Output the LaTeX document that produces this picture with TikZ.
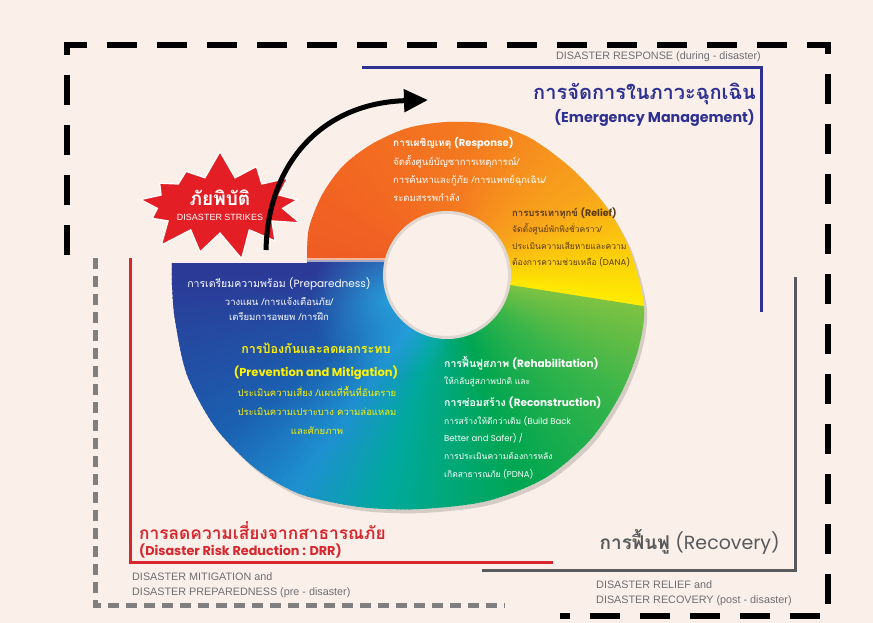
\documentclass[tikz,border=0pt]{standalone}
\usepackage{fontspec}
\setmainfont{Liberation Sans}
\newfontfamily\thai[Script=Thai]{Loma}
\newfontfamily\lat{Poppins}
\usetikzlibrary{shapes.symbols,arrows.meta,fadings}
\definecolor{bg}{HTML}{FBF0E9}
\definecolor{navy}{HTML}{2E3192}
\definecolor{drrred}{HTML}{D7262E}
\definecolor{recgrey}{HTML}{58595B}
\definecolor{lblgrey}{HTML}{6D6E71}
\definecolor{dashgrey}{HTML}{7F7F7F}
\definecolor{burst}{HTML}{E31E24}
\definecolor{ytext}{HTML}{FFF200}
\definecolor{btext}{HTML}{5A3A12}
\definecolor{c0}{HTML}{EE5A24}
\definecolor{c1}{HTML}{F26522}
\definecolor{c2}{HTML}{F47A20}
\definecolor{c3}{HTML}{F8A51B}
\definecolor{c4}{HTML}{FFEC00}
\definecolor{c5}{HTML}{7DC242}
\definecolor{c6}{HTML}{39B54A}
\definecolor{c7}{HTML}{00A651}
\definecolor{c8}{HTML}{00A99D}
\definecolor{c9}{HTML}{1E90D0}
\definecolor{c10}{HTML}{1B5FB0}
\definecolor{c11}{HTML}{2B3A96}
\definecolor{glow}{HTML}{29ABE2}
\tikzfading[name=fuzzyglow, inner color=transparent!0, outer color=transparent!100]
\newcommand\spiralpath{plot[smooth] coordinates {(307,258) (309,228) (322,195) (343,166) (372,144) (408,128) (447,122) (490,124) (530,138) (571,168) (605,205) (630,250) (644,306) (638,350) (620,395) (590,440) (545,478) (487,501) (420,509) (360,507) (300,494) (255,468) (215,427) (187,375) (175,320) (172,285) (172,263)} -- (307,263) -- cycle}
\begin{document}
\begin{tikzpicture}[x=1pt,y=-1pt,
  lbl/.style={inner sep=0pt, text=lblgrey, anchor=base west, font=\fontsize{10.8}{12}\selectfont},
  wt/.style={inner sep=0pt, text=white, anchor=base west, font=\fontsize{9.5}{11}\selectfont},
  bigdash/.style={line width=5.5pt, dash pattern=on 30pt off 20pt},
  smalldash/.style={line width=5pt, dashgrey, dash pattern=on 11pt off 7pt}]
\fill[bg] (0,0) rectangle (873,623);
\useasboundingbox (0,0) rectangle (873,623);

% frames
\draw[bigdash] (67,255) -- (67,45) -- (828,45) -- (828,616) -- (560,616);
\draw[smalldash] (95,258) -- (95,605) -- (505,605);
\draw[navy, line width=3pt] (362,68) -- (761,68) -- (761,312);
\draw[drrred, line width=3pt] (130,258) -- (130,562) -- (553,562);
\draw[recgrey, line width=3pt] (795,277) -- (795,570) -- (482,570);

% wheel shadow
\fill[black, opacity=.15, shift={(3,4)}] \spiralpath;
% wheel
\begin{scope}
\clip \spiralpath;
\foreach \ta/\tb/\ca/\cb in {0/40/c0/c1, 40/100/c1/c2, 100/150/c2/c3, 150/189/c3/c4, 189/215/c5/c6, 215/250/c6/c7, 250/285/c7/c8, 285/305/c8/c9, 305/325/c9/c10, 325/360/c10/c11}{
  \pgfmathtruncatemacro\n{\tb-\ta-1}
  \foreach \k in {0,...,\n}{
    \pgfmathsetmacro\p{100*\k/(\tb-\ta)}
    \pgfmathsetmacro\tt{\ta+\k}
    \colorlet{sc}{\cb!\p!\ca}
    \fill[sc] (447,275) -- ({447-330*cos(\tt)},{275-330*sin(\tt)}) -- ({447-330*cos(\tt+1.4)},{275-330*sin(\tt+1.4)}) -- cycle;
  }
}
\fill[c11] (150,259.5) rectangle (447,276);
\begin{scope}
\clip (150,262) rectangle (445,520);
\fill[glow, opacity=.85, path fading=fuzzyglow] (390,300) circle (80);
\end{scope}
\fill[bg, opacity=.6] (300,258) rectangle (392,262);
\end{scope}
% hole
\fill[bg] (447,275) circle (64);
\draw[black, opacity=.10, line width=3pt] (447,275) circle (62.5);

% emergency management
\node[lbl, anchor=base east] (resp) at (761,60) {DISASTER RESPONSE (during - disaster)};
\node[inner sep=0pt, anchor=base east, text=navy, font=\thai\bfseries\fontsize{20}{22}\selectfont] (em) at (756,100) {การจัดการในภาวะฉุกเฉิน};
\node[inner sep=0pt, anchor=base east, text=navy, font=\lat\bfseries\fontsize{14.3}{16}\selectfont] (eme) at (755,123) {(Emergency Management)};

% response block
\node[wt, font=\bfseries\fontsize{10}{11}\selectfont] (r0) at (393,147) {{\thai การเผชิญเหตุ} {\lat (Response)}};
\foreach \s [count=\i] in {จัดตั้งศูนย์บัญชาการเหตุการณ์/, การค้นหาและกู้ภัย /การแพทย์ฉุกเฉิน/, ระดมสรรพกำลัง}
  \node[wt, font=\thai\fontsize{9.5}{11}\selectfont] (r\i) at (393,147+18*\i) {\s};

% relief block
\node[wt, text=btext, font=\bfseries\fontsize{9.5}{11}\selectfont] (l0) at (512,216) {{\thai การบรรเทาทุกข์} {\lat (Relief)}};
\foreach \s [count=\i] in {จัดตั้งศูนย์พักพิงชั่วคราว/, ประเมินความเสียหายและความ}
  \node[wt, text=btext, font=\thai\fontsize{8.5}{10}\selectfont] (l\i) at (512,216+16.5*\i) {\s};
\node[wt, text=btext, font=\fontsize{8.5}{10}\selectfont] (l3) at (512,265.5) {{\thai ต้องการความช่วยเหลือ} {\lat (DANA)}};

% preparedness block
\node[wt, anchor=base, font=\fontsize{10.5}{12}\selectfont] (p0) at (279,287) {{\thai การเตรียมความพร้อม} {\lat (Preparedness)}};
\node[wt, anchor=base, font=\thai\fontsize{9.5}{11}\selectfont] (p1) at (279,305) {วางแผน /การแจ้งเตือนภัย/};
\node[wt, anchor=base, font=\thai\fontsize{9.5}{11}\selectfont] (p2) at (279,320) {เตรียมการอพยพ /การฝึก};

% prevention block
\node[wt, anchor=base, text=ytext, font=\thai\bfseries\fontsize{12.5}{14}\selectfont] (m0) at (316,353) {การป้องกันและลดผลกระทบ};
\node[wt, anchor=base, text=ytext, font=\lat\bfseries\fontsize{11.5}{13}\selectfont] (m1) at (316,376) {(Prevention and Mitigation)};
\foreach \s [count=\i] in {ประเมินความเสี่ยง /แผนที่พื้นที่อันตราย, ประเมินความเปราะบาง ความล่อแหลม, และศักยภาพ}
  \node[wt, anchor=base, text=ytext, font=\thai\fontsize{9.5}{11}\selectfont] (m\i\i) at (317,377+19*\i) {\s};

% rehabilitation block
\node[wt, font=\bfseries\fontsize{10.5}{12}\selectfont] (h0) at (444,367) {{\thai การฟื้นฟูสภาพ} {\lat (Rehabilitation)}};
\node[wt, font=\thai\fontsize{8.5}{10}\selectfont] (h1) at (444,384) {ให้กลับสู่สภาพปกติ และ};
\node[wt, font=\bfseries\fontsize{10.5}{12}\selectfont] (h2) at (444,406) {{\thai การซ่อมสร้าง} {\lat (Reconstruction)}};
\node[wt, font=\fontsize{8.5}{10}\selectfont] (h3) at (444,424) {{\thai การสร้างให้ดีกว่าเดิม} {\lat (Build Back}};
\node[wt, font=\lat\fontsize{8.5}{10}\selectfont] (h4) at (444,441) {Better and Safer) /};
\node[wt, font=\thai\fontsize{8.5}{10}\selectfont] (h5) at (444,459) {การประเมินความต้องการหลัง};
\node[wt, font=\fontsize{8.5}{10}\selectfont] (h6) at (444,477) {{\thai เกิดสาธารณภัย} {\lat (PDNA)}};

% DRR
\node[inner sep=0pt, anchor=base west, text=drrred, font=\thai\bfseries\fontsize{17.3}{19}\selectfont] (drr) at (139,539) {การลดความเสี่ยงจากสาธารณภัย};
\node[inner sep=0pt, anchor=base west, text=drrred, font=\lat\bfseries\fontsize{12.8}{14}\selectfont] (drre) at (139,555) {(Disaster Risk Reduction : DRR)};
\node[lbl] (mit1) at (132,580) {DISASTER MITIGATION and};
\node[lbl] (mit2) at (132,595) {DISASTER PREPAREDNESS (pre - disaster)};

% recovery
\node[inner sep=0pt, anchor=base east, text=recgrey, font=\fontsize{19}{21}\selectfont] (rec) at (780,549) {{\thai\bfseries การฟื้นฟู} {\lat (Recovery)}};
\node[lbl] (rel1) at (596,588) {DISASTER RELIEF and};
\node[lbl] (rel2) at (596,603) {DISASTER RECOVERY (post - disaster)};

% starburst
\node[starburst, starburst points=13, starburst point height=28pt, random starburst=7,
      fill=burst, draw=white, line width=1.2pt, minimum width=182pt, minimum height=112pt,
      align=center, text=white, inner sep=0pt] (strike) at (220,205)
  {{\thai\bfseries\fontsize{19}{20}\selectfont ภัยพิบัติ}\\[3pt]{\fontsize{9}{10}\selectfont DISASTER STRIKES}};

% arrow
\coordinate (as) at (266,250);
\coordinate (ae) at (428,100);
\draw[line width=5pt, -{Triangle[length=24pt,width=22pt]}] (as) .. controls (268,160) and (325,103) .. (ae);
\end{tikzpicture}
\end{document}
